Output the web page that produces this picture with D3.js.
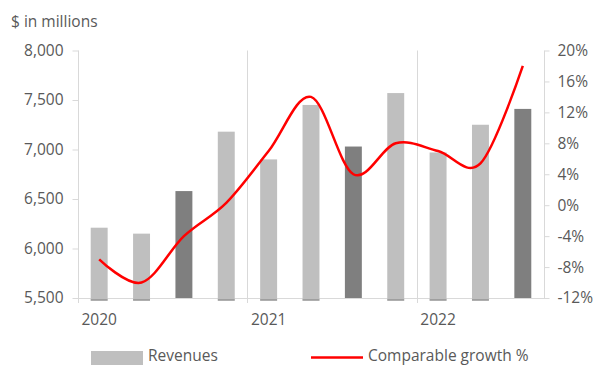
<!DOCTYPE html>
<html>
<head>
<meta charset="utf-8">
<script src="https://cdn.jsdelivr.net/npm/d3@7"></script>
<style>
  body { margin: 0; background: #fff; }
  svg { display: block; }
  text { font-family: "Open Sans", sans-serif; fill: #595959; }
</style>
</head>
<body>
<svg id="chart" width="593" height="365"></svg>
<script>
// Quarterly revenues ($ millions) and comparable growth (%)
const quarters = ["Q1 2020", "Q2 2020", "Q3 2020", "Q4 2020",
                  "Q1 2021", "Q2 2021", "Q3 2021", "Q4 2021",
                  "Q1 2022", "Q2 2022", "Q3 2022"];
const revenues = [6210, 6150, 6580, 7180, 6900, 7450, 7030, 7570, 6970, 7250, 7410];
const growth = [-7.0, -10.0, -4.0, 0.3, 7.0, 14.0, 4.0, 8.0, 7.0, 5.4, 18.0];
const revenueTicks = [5500, 6000, 6500, 7000, 7500, 8000];
const growthTicks = [-12, -8, -4, 0, 4, 8, 12, 16, 20];
const years = ["2020", "2021", "2022"];

const svg = d3.select("#chart");
const plotLeft = 78, plotRight = 544, plotTop = 50.5, plotBottom = 298;
const axisColor = "#d9d9d9";
const lightBar = "#bfbfbf", darkBar = "#7f7f7f";

const x = d3.scaleBand().domain(quarters).range([plotLeft, plotRight])
  .paddingInner(0.6).paddingOuter(0.3);
const yRev = d3.scaleLinear().domain([5500, 8000]).range([plotBottom, plotTop]);
const yGrowth = d3.scaleLinear().domain([-12, 20]).range([plotBottom, plotTop]);
const cx = q => x(q) + x.bandwidth() / 2;
const firstQuarterOf = yr => quarters.find(q => q.endsWith(yr));

// Year separators
years.slice(1).forEach(yr => {
  const sx = Math.round(cx(firstQuarterOf(yr)) - x.step() / 2) + 0.5;
  svg.append("line").attr("x1", sx).attr("x2", sx).attr("y1", plotTop).attr("y2", plotBottom + 5)
    .attr("stroke", axisColor).attr("stroke-width", 1);
});

// Left axis
const gL = svg.append("g").attr("transform", `translate(${plotLeft + 0.5},0)`)
  .call(d3.axisLeft(yRev).tickValues(revenueTicks).tickFormat(d3.format(","))
    .tickSize(6).tickPadding(9));
gL.select(".domain").remove();
gL.selectAll("line").attr("stroke", axisColor);
gL.selectAll("text").style("font-size", "15.5px").attr("fill", "#595959");
svg.append("line").attr("x1", plotLeft + 0.5).attr("x2", plotLeft + 0.5)
  .attr("y1", plotTop).attr("y2", plotBottom + 5).attr("stroke", axisColor);

// Right axis
const gR = svg.append("g").attr("transform", `translate(${plotRight + 0.5},0)`)
  .call(d3.axisRight(yGrowth).tickValues(growthTicks).tickFormat(d => d + "%")
    .tickSize(5).tickPadding(8));
gR.select(".domain").remove();
gR.selectAll("line").attr("stroke", axisColor);
gR.selectAll("text").style("font-size", "15.5px").attr("fill", "#595959");
svg.append("line").attr("x1", plotRight + 0.5).attr("x2", plotRight + 0.5)
  .attr("y1", plotTop).attr("y2", plotBottom).attr("stroke", axisColor);

// Baseline
svg.append("line").attr("x1", plotLeft).attr("x2", plotRight + 1)
  .attr("y1", plotBottom + 0.5).attr("y2", plotBottom + 0.5).attr("stroke", axisColor);

// Revenue bars (third quarter highlighted in dark grey)
const isDark = q => q.startsWith("Q3");
const bars = svg.append("g");
quarters.forEach((q, i) => {
  const dark = isDark(q);
  const y0 = dark ? plotBottom : plotBottom + 2.5;
  bars.append("rect")
    .attr("x", x(q)).attr("width", x.bandwidth())
    .attr("y", yRev(revenues[i])).attr("height", y0 - yRev(revenues[i]))
    .attr("fill", dark ? darkBar : lightBar);
  if (!dark) {
    bars.append("line").attr("x1", x(q)).attr("x2", x(q) + x.bandwidth())
      .attr("y1", y0 - 0.5).attr("y2", y0 - 0.5)
      .attr("stroke", darkBar).attr("stroke-width", 1);
  }
});

// Comparable growth line
const line = d3.line().x((d, i) => cx(quarters[i])).y(d => yGrowth(d))
  .curve(d3.curveCatmullRom.alpha(0));
svg.append("path").datum(growth).attr("d", line)
  .attr("fill", "none").attr("stroke", "#ff0000").attr("stroke-width", 2.5);

// Year labels
years.forEach(yr => {
  svg.append("text").attr("x", cx(firstQuarterOf(yr))).attr("y", 325)
    .attr("text-anchor", "middle").style("font-size", "15.5px").text(yr);
});

// Unit title
svg.append("text").attr("x", 11).attr("y", 27).style("font-size", "15.5px").text("$ in millions");

// Legend
svg.append("rect").attr("x", 91).attr("y", 351).attr("width", 52).attr("height", 14).attr("fill", lightBar);
svg.append("text").attr("x", 148).attr("y", 360.5).style("font-size", "15.5px").text("Revenues");
svg.append("line").attr("x1", 311).attr("x2", 363).attr("y1", 357.5).attr("y2", 357.5)
  .attr("stroke", "#ff0000").attr("stroke-width", 2.5);
svg.append("text").attr("x", 368).attr("y", 360.5).style("font-size", "15.5px").text("Comparable growth %");
</script>
</body>
</html>
